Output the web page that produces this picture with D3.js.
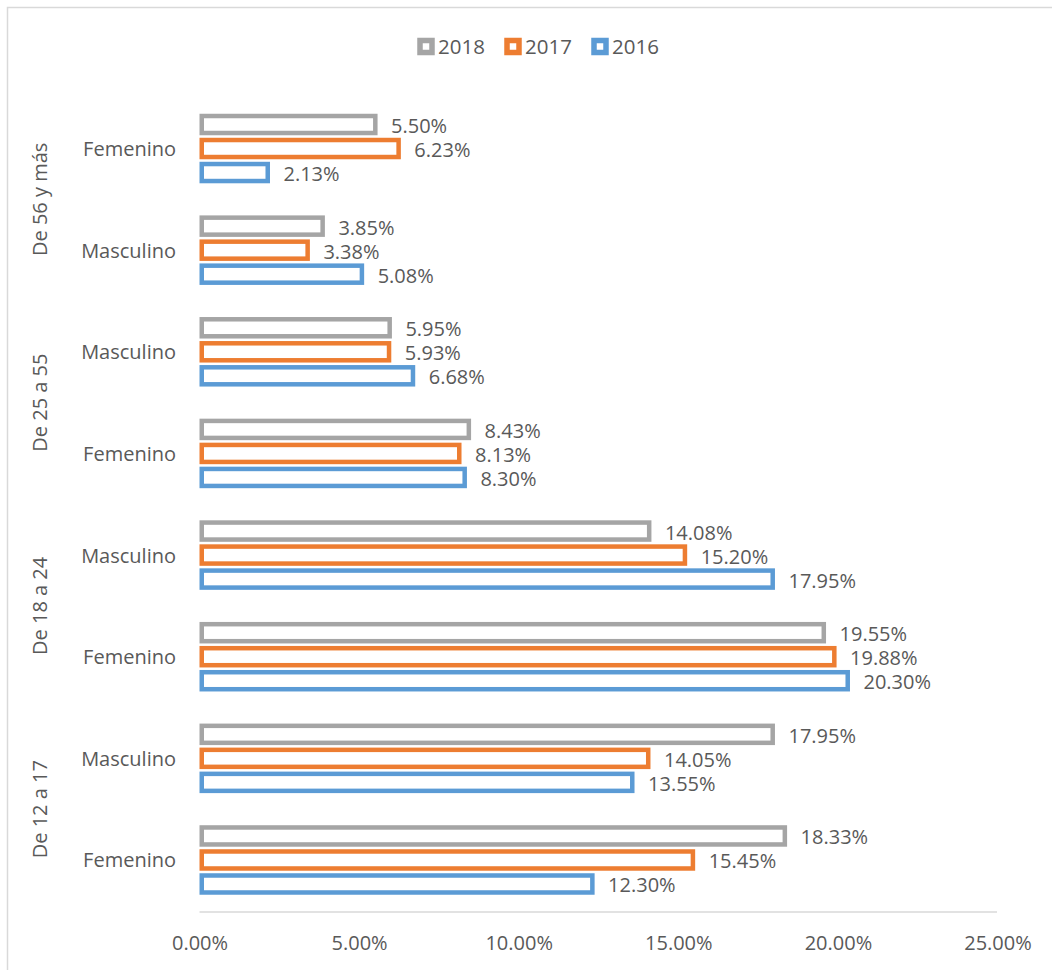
<!DOCTYPE html>
<html><head><meta charset="utf-8">
<script src="https://cdn.jsdelivr.net/npm/d3@7/dist/d3.min.js"></script>
<style>body{margin:0;background:#fff;} text{font-family:"Open Sans",sans-serif;}</style>
</head><body><svg id="c" width="1052" height="970"></svg>
<script>
const categories = ["Femenino","Masculino","Masculino","Femenino","Masculino","Femenino","Masculino","Femenino"];
const groups = ["De 56 y más","De 25 a 55","De 18 a 24","De 12 a 17"];
const series = ["2018","2017","2016"];
const colors = ["#A5A5A5","#ED7D31","#5B9BD5"];
const v2018 = [5.50,3.85,5.95,8.43,14.08,19.55,17.95,18.33];
const v2017 = [6.23,3.38,5.93,8.13,15.20,19.88,14.05,15.45];
const v2016 = [2.13,5.08,6.68,8.30,17.95,20.30,13.55,12.30];
const ticks = [0,5,10,15,20,25];

const values = [v2018,v2017,v2016];
const svg = d3.select("#c");
const txt = "#595959";

svg.append("rect").attr("x",7.5).attr("y",7.5).attr("width",1100).attr("height",1100)
  .attr("fill","none").attr("stroke","#D9D9D9").attr("stroke-width",1.5);

const x = d3.scaleLinear().domain([0,25]).range([199.5,997.5]);
const idx = d3.range(categories.length);
const y = d3.scaleBand().domain(idx).range([97.7,910.8]);
const bw = y.bandwidth();
const ys = d3.scaleBand().domain(series).range([14.8, bw-14.8]);
const sw = 4.5, outerH = 21.5;

// axis
const xAxis = d3.axisBottom(x).tickValues(ticks).tickFormat(d=>d.toFixed(2)+"%").tickSize(0).tickPadding(24);
const ga = svg.append("g").attr("transform","translate(0,912)").call(xAxis);
ga.select(".domain").attr("stroke","#D9D9D9").attr("stroke-width",1.5).attr("d","M199.5,0H997");
ga.selectAll("text").attr("fill",txt).attr("font-size",20).attr("font-family","Open Sans");

// bars
series.forEach((s,si)=>{
  const g = svg.append("g");
  idx.forEach(i=>{
    const v = values[si][i];
    const yc = y(i)+ys(s)+ys.bandwidth()/2;
    g.append("rect").attr("x",x(0)+sw/2).attr("y",yc-outerH/2+sw/2)
      .attr("width",Math.max(0,x(v)-x(0)-2)).attr("height",outerH-sw)
      .attr("fill","#fff").attr("stroke",colors[si]).attr("stroke-width",sw);
    g.append("text").attr("x",x(v)+16).attr("y",yc+8.5)
      .attr("fill",txt).attr("font-size",20).text(v.toFixed(2)+"%");
  });
});

// category labels
idx.forEach(i=>{
  svg.append("text").attr("x",176).attr("y",y(i)+bw/2+7.5).attr("text-anchor","end")
    .attr("fill",txt).attr("font-size",20).text(categories[i]);
});
// group labels
groups.forEach((gname,gi)=>{
  const yc = y(gi*2)+bw;
  svg.append("text").attr("transform",`translate(47,${yc}) rotate(-90)`).attr("text-anchor","middle")
    .attr("fill",txt).attr("font-size",20).text(gname);
});

// legend
const legX = [426,513,600];
series.forEach((s,si)=>{
  svg.append("rect").attr("x",legX[si]-6).attr("y",46.5-6).attr("width",12).attr("height",12)
    .attr("fill","#fff").attr("stroke",colors[si]).attr("stroke-width",5.5);
  svg.append("text").attr("x",legX[si]+12).attr("y",53.5).attr("fill",txt).attr("font-size",20.5).text(s);
});
</script></body></html>
